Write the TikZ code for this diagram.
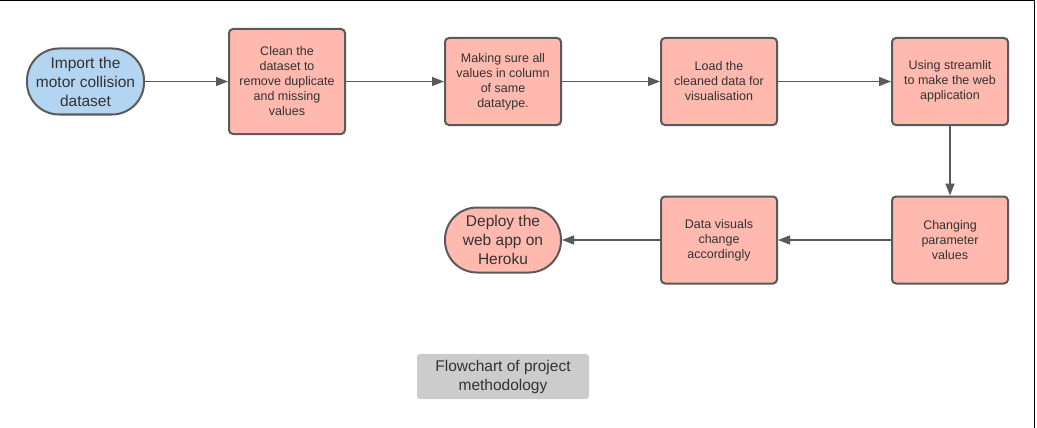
\documentclass[tikz,border=0pt]{standalone}
\usepackage{fontspec}
\setmainfont{Liberation Sans}
\usetikzlibrary{arrows.meta}

\definecolor{boxpink}{HTML}{FFB9AE}
\definecolor{termblue}{HTML}{B3D5F1}
\definecolor{edgegray}{HTML}{5A5A5A}
\definecolor{captiongray}{HTML}{CCCCCC}
\definecolor{txtgray}{HTML}{333333}

\begin{document}
\begin{tikzpicture}[x=1pt,y=-1pt,
        stepbox/.style={
            draw=edgegray,
            line width=2pt,
            fill=boxpink,
            rounded corners=4pt,
            minimum width=116pt,
            minimum height=87pt,
            align=center,
            text=txtgray,
            inner sep=2pt,
            font=\fontsize{12.5}{15}\selectfont
            },
        terminal/.style={
            stepbox,
            rounded corners=32pt,
            minimum height=65pt,
            font=\fontsize{15.5}{19}\selectfont
            },
        flow/.style={
            draw=edgegray,
            line width=1.5pt,
            -{Triangle[length=12pt,width=9pt]}
            }
    ]
    \useasboundingbox (0,0) rectangle (1037,428);
    % frame: only the top and right edges show
    \draw[line width=1.5pt] (0,0.75) -- (1034.5,0.75) -- (1034.5,428);

    % top row
    \node[terminal, fill=termblue, minimum width=117pt, minimum height=66pt] (import) at (85.5,81.5)
        {Import the\\motor collision\\dataset};
    \node[stepbox, minimum height=105pt] (clean) at (287,81.5)
        {Clean the\\dataset to\\remove duplicate\\and missing\\values};
    \node[stepbox] (sure) at (503,81.5)
        {Making sure all\\values in column\\of same\\datatype.};
    \node[stepbox] (load) at (719,81.5)
        {Load the\\cleaned data for\\visualisation};
    \node[stepbox] (app) at (950,81.5)
        {Using streamlit\\to make the web\\application};

    % bottom row
    \node[stepbox] (change) at (950,240)
        {Changing\\parameter\\values};
    \node[stepbox] (visuals) at (719,240)
        {Data visuals\\change\\accordingly};
    \node[terminal] (deploy) at (503,240)
        {Deploy the\\web app on\\Heroku};

    % caption
    \node[
        fill=captiongray,
        rounded corners=3pt,
        minimum width=172pt,
        minimum height=45pt,
        align=center,
        text=txtgray,
        font=\fontsize{15.5}{19}\selectfont
        ] (caption) at (503,376.5)
        {Flowchart of project\\methodology};

    % arrows
    \foreach \a/\b in {import/clean, clean/sure, sure/load, load/app, app/change, change/visuals, visuals/deploy}
    \draw[flow] (\a) -- (\b);
\end{tikzpicture}
\end{document}
